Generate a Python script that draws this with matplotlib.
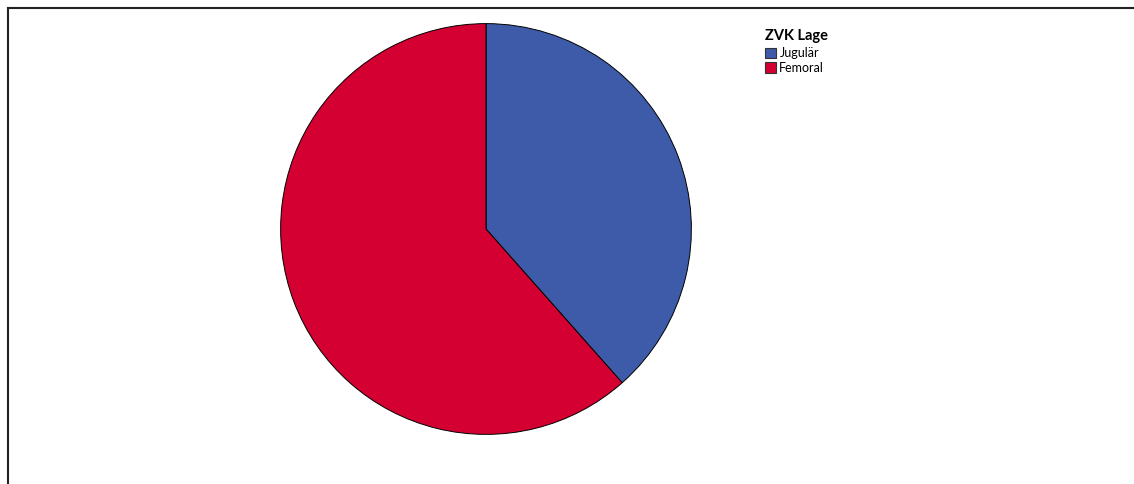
import matplotlib.pyplot as plt
from matplotlib.patches import Patch
from matplotlib.lines import Line2D

labels = ["Jugulär", "Femoral"]
counts = [5, 8]
colors = ["#3E5BA9", "#D50032"]

plt.rcParams['font.family'] = ['Lato', 'DejaVu Sans']

fig = plt.figure(figsize=(11.34, 4.84), dpi=100)

# pie area
ax = fig.add_axes([280 / 1134, 49 / 484, 412 / 1134, 412 / 484])
ax.pie(counts, colors=colors, startangle=90, counterclock=False,
       wedgeprops=dict(edgecolor='black', linewidth=0.7))
ax.set_xlim(-1.003, 1.003)
ax.set_ylim(-1.003, 1.003)
ax.set_aspect('equal')
ax.axis('off')

# frame lines (top and left only visible)
x0, y0 = 7.5 / 1134, 1 - 7.5 / 484
fig.add_artist(Line2D([x0, 1], [y0, y0], transform=fig.transFigure, color='#222222', lw=1.5))
fig.add_artist(Line2D([x0, x0], [0, y0], transform=fig.transFigure, color='#222222', lw=1.5))

handles = [Patch(facecolor=c, edgecolor='#333333', linewidth=0.8) for c in colors]
leg = fig.legend(handles, labels, title="ZVK Lage", loc='upper left',
                 bbox_to_anchor=(765 / 1134, 1 - 29 / 484), frameon=False,
                 fontsize=9, title_fontsize=10.5, alignment='left',
                 handlelength=0.9, handleheight=0.9, handletextpad=0.25,
                 labelspacing=0.2, borderpad=0, borderaxespad=0)
leg.get_title().set_fontweight('bold')
leg._legend_box.sep = 3

fig.savefig("out.png", dpi=100)
